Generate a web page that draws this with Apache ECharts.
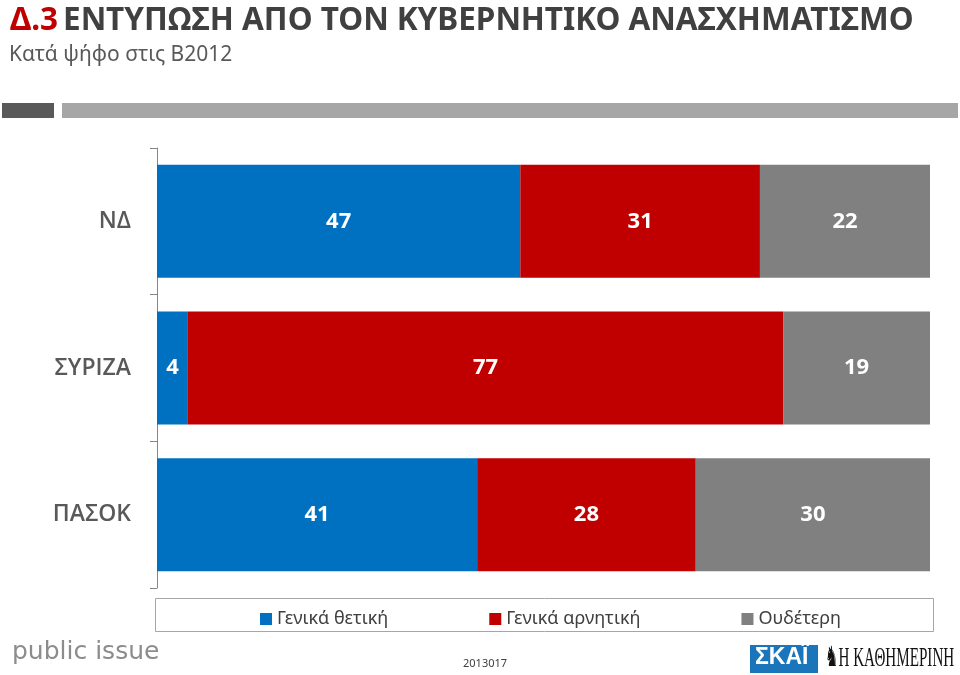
<!DOCTYPE html>
<html><head><meta charset="utf-8">
<script src="https://cdn.jsdelivr.net/npm/echarts@6/dist/echarts.min.js"></script>
<style>html,body{margin:0;padding:0;background:#fff}#c{width:960px;height:675px}</style>
</head><body><div id="c"></div>
<script>
var categories = ['ΝΔ', 'ΣΥΡΙΖΑ', 'ΠΑΣΟΚ'];
var seriesNames = ['Γενικά θετική', 'Γενικά αρνητική', 'Ουδέτερη'];
var positive = [47, 4, 41];
var negative = [31, 77, 28];
var neutral = [22, 19, 30];
var colors = ['#0070C0', '#C00000', '#808080'];

var raw = [positive, negative, neutral];
var totals = categories.map(function (c, i) { return positive[i] + negative[i] + neutral[i]; });
var FONT = "'Noto Sans', sans-serif";

var series = raw.map(function (arr, k) {
  return {
    name: seriesNames[k], type: 'bar', stack: 'total', barCategoryGap: '23%',
    itemStyle: { color: colors[k] },
    data: arr.map(function (v, i) { return { value: v / totals[i] * 100, raw: v }; }),
    label: {
      show: true, position: 'inside', color: '#fff', fontFamily: FONT, fontWeight: 'bold', fontSize: 22,
      formatter: function (p) { return p.data.raw; }
    }
  };
});

var chart = echarts.init(document.getElementById('c'));
chart.setOption({
  animation: false,
  title: [{
    text: '{r|Δ.3} {g|ΕΝΤΥΠΩΣΗ ΑΠΟ ΤΟΝ ΚΥΒΕΡΝΗΤΙΚΟ ΑΝΑΣΧΗΜΑΤΙΣΜΟ}',
    left: 5, top: 0,
    textStyle: {
      rich: {
        r: { color: '#C00000', fontSize: 31.5, fontWeight: 'bold', fontFamily: FONT },
        g: { color: '#404040', fontSize: 31.5, fontWeight: 'bold', fontFamily: FONT }
      }
    }
  }, {
    text: 'Κατά ψήφο στις Β2012', left: 4, top: 40,
    textStyle: { color: '#595959', fontSize: 21, fontWeight: 'normal', fontFamily: FONT }
  }],
  legend: {
    left: 255, top: 605, itemGap: 101, itemWidth: 12, itemHeight: 12, icon: 'rect',
    textStyle: { color: '#404040', fontSize: 18, fontFamily: FONT }
  },
  grid: { left: 157, right: 30, top: 148, bottom: 87 },
  xAxis: { type: 'value', min: 0, max: 100, show: false },
  yAxis: {
    type: 'category', data: categories, inverse: true,
    axisLine: { show: true, lineStyle: { color: '#868686' } },
    axisTick: { show: true, length: 7, lineStyle: { color: '#868686' } },
    axisLabel: { color: '#595959', fontSize: 23, fontFamily: "'Open Sans', sans-serif", fontWeight: 600, margin: 26 }
  },
  series: series,
  graphic: [
    { type: 'rect', shape: { x: 2, y: 103, width: 52, height: 15 }, style: { fill: '#595959' } },
    { type: 'rect', shape: { x: 62, y: 103, width: 896, height: 15 }, style: { fill: '#A6A6A6' } },
    { type: 'rect', shape: { x: 155.5, y: 598.5, width: 778, height: 33 }, style: { fill: 'none', stroke: '#A6A6A6', lineWidth: 1 } },
    { type: 'text', left: 12, top: 640, style: { text: 'public issue', fill: '#8c8c8c', font: "25px 'DejaVu Sans', sans-serif" } },
    { type: 'text', left: 463, top: 658, style: { text: '2013017', fill: '#404040', font: "11px " + FONT } },
    { type: 'rect', shape: { x: 750, y: 645, width: 68, height: 28 }, style: { fill: '#1B75BB' } },
    { type: 'text', left: 755, top: 646, style: { text: 'ΣΚΑΪ', fill: '#fff', font: "bold 23px 'Liberation Sans', sans-serif" } },
    { type: 'text', x: 825, y: 645, scaleX: 0.54, style: { text: '♞Η ΚΑΘΗΜΕΡΙΝΗ', fill: '#111', font: "28px 'Liberation Serif', serif" } }
  ]
});
</script></body></html>
